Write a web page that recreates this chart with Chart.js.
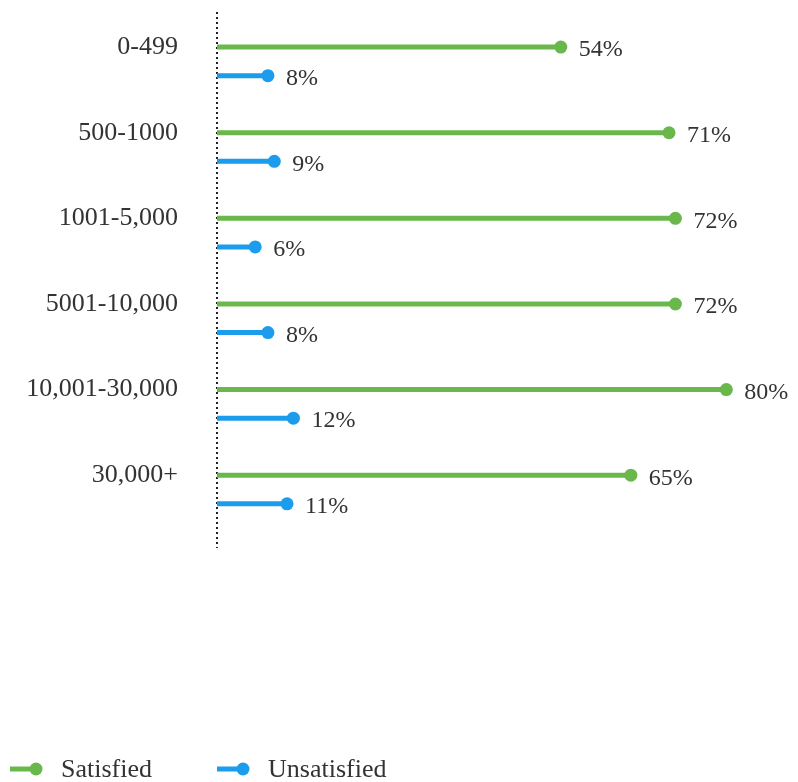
<!DOCTYPE html>
<html>
<head>
<meta charset="utf-8">
<script src="https://cdn.jsdelivr.net/npm/chart.js@4/dist/chart.umd.min.js"></script>
<style>
  html, body { margin: 0; padding: 0; background: #fff; }
  #wrap { width: 798px; height: 782px; }
</style>
</head>
<body>
<div id="wrap"><canvas id="grafica"></canvas></div>
<script>
// data
const categorias = ["0-499", "500-1000", "1001-5,000", "5001-10,000", "10,001-30,000", "30,000+"];
const satisfechos = [54, 71, 72, 72, 80, 65];
const insatisfechos = [8, 9, 6, 8, 12, 11];
const series = ["Satisfied", "Unsatisfied"];

const VERDE = "#6ab74c";
const AZUL = "#1b9cec";
const FUENTE = "'Liberation Serif', 'DejaVu Serif', serif";
const OFFSET_AZUL = 0.334; // blue line sits a bit under the green one

// each lollipop is a segment from 0 to the value, with a gap after it
function segmentos(valores, desplazamiento) {
    const puntos = [];
    valores.forEach((v, i) => {
        puntos.push({ x: 0, y: i + desplazamiento });
        puntos.push({ x: v, y: i + desplazamiento });
        puntos.push({ x: null, y: i + desplazamiento });
    });
    return puntos;
}

const radioPunto = (ctx) => (ctx.dataIndex % 3 === 1 ? 6.5 : 0);

// value labels next to the dots
const etiquetasValores = {
    id: "etiquetasValores",
    afterDatasetsDraw(chart) {
        const ctx = chart.ctx;
        ctx.save();
        ctx.font = "24px " + FUENTE;
        ctx.fillStyle = "#333";
        ctx.textAlign = "left";
        ctx.textBaseline = "middle";
        chart.data.datasets.forEach((ds, d) => {
            const meta = chart.getDatasetMeta(d);
            const valores = d === 0 ? satisfechos : insatisfechos;
            meta.data.forEach((el, j) => {
                if (j % 3 !== 1) return;
                ctx.fillText(valores[(j - 1) / 3] + "%", el.x + 18, el.y + 3);
            });
        });
        ctx.restore();
    }
};

// legend: short line with a dot, then the text
const leyenda = {
    id: "leyenda",
    afterDraw(chart) {
        const ctx = chart.ctx;
        const y = 769;
        const posiciones = [10, 217];
        ctx.save();
        ctx.font = "26px " + FUENTE;
        ctx.textAlign = "left";
        ctx.textBaseline = "middle";
        chart.data.datasets.forEach((ds, d) => {
            const x0 = posiciones[d];
            ctx.strokeStyle = ds.borderColor;
            ctx.lineWidth = 5;
            ctx.beginPath();
            ctx.moveTo(x0, y);
            ctx.lineTo(x0 + 26, y);
            ctx.stroke();
            ctx.fillStyle = ds.borderColor;
            ctx.beginPath();
            ctx.arc(x0 + 26, y, 6.5, 0, Math.PI * 2);
            ctx.fill();
            ctx.fillStyle = "#333";
            ctx.fillText(ds.label, x0 + 51, y + 1);
        });
        ctx.restore();
    }
};

new Chart(document.getElementById("grafica").getContext("2d"), {
    type: "line",
    data: {
        datasets: [
            {
                label: series[0],
                data: segmentos(satisfechos, 0),
                borderColor: VERDE,
                backgroundColor: VERDE,
                borderWidth: 5,
                pointRadius: radioPunto,
                pointHoverRadius: radioPunto,
                pointBorderWidth: 0,
                spanGaps: false,
                tension: 0,
            },
            {
                label: series[1],
                data: segmentos(insatisfechos, OFFSET_AZUL),
                borderColor: AZUL,
                backgroundColor: AZUL,
                borderWidth: 5,
                pointRadius: radioPunto,
                pointHoverRadius: radioPunto,
                pointBorderWidth: 0,
                spanGaps: false,
                tension: 0,
            },
        ],
    },
    plugins: [etiquetasValores, leyenda],
    options: {
        responsive: true,
        maintainAspectRatio: false,
        animation: false,
        clip: false,
        layout: { padding: { top: 12, right: 8, left: 0, bottom: 0 } },
        scales: {
            x: {
                type: "linear",
                min: 0,
                max: 90,
                // only the zero grid line is shown, dotted, as the axis
                grid: {
                    drawTicks: false,
                    lineWidth: 2,
                    color: (ctx) => (ctx.tick && ctx.tick.value === 0 ? "#222" : "rgba(0,0,0,0)"),
                },
                border: { display: false, dash: [2, 3] },
                ticks: { display: false, stepSize: 10 },
                afterFit: (scale) => { scale.height = 234; },
            },
            y: {
                type: "linear",
                reverse: true,
                min: -0.41,
                max: 5.85,
                grid: { display: false, drawTicks: false },
                border: { display: false },
                afterBuildTicks: (scale) => {
                    scale.ticks = categorias.map((c, i) => ({ value: i }));
                },
                afterFit: (scale) => {
                    scale.width = 217;
                    scale.paddingTop = 0;
                    scale.paddingBottom = 0;
                },
                ticks: {
                    padding: 39,
                    color: "#333",
                    font: { family: FUENTE, size: 26 },
                    callback: (value) => categorias[value],
                },
            },
        },
        plugins: {
            legend: { display: false },
            tooltip: { enabled: false },
        },
    },
});
</script>
</body>
</html>
